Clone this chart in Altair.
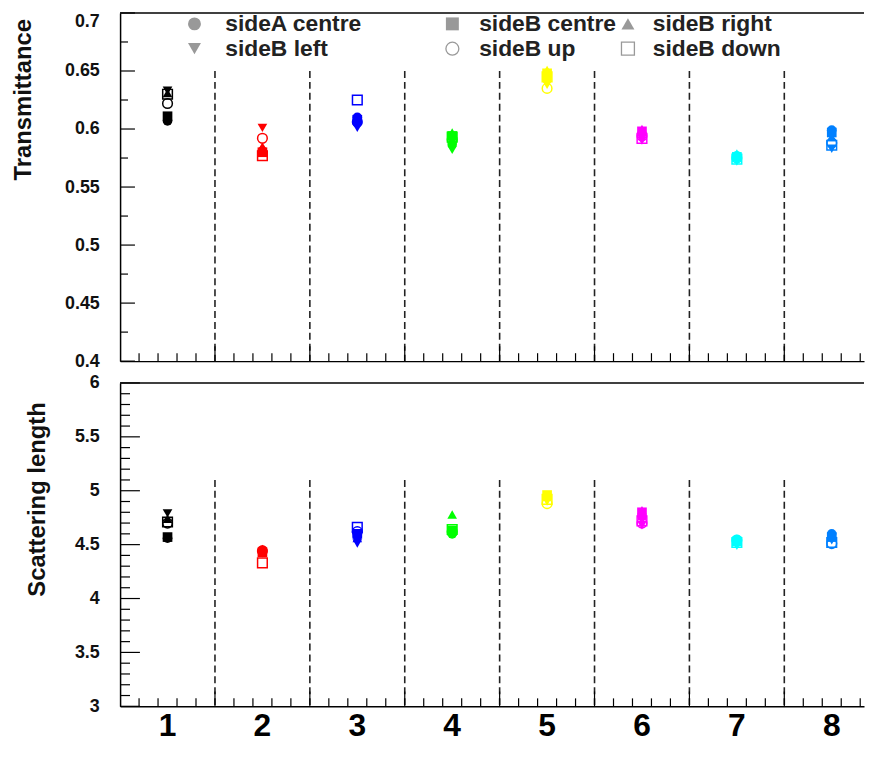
import altair as alt
import pandas as pd

# ---------------- data ----------------
group_labels = ["1", "2", "3", "4", "5", "6", "7", "8"]
group_pos = [0.5, 1.5, 2.5, 3.5, 4.5, 5.5, 6.5, 7.5]
group_colors = ["#000000", "#ff0000", "#0000ff", "#00ff00", "#ffff00", "#ff00ff", "#00ffff", "#0080ff"]
boundaries = [1, 2, 3, 4, 5, 6, 7]

measurements = ["sideA centre", "sideB centre", "sideB right", "sideB left", "sideB up", "sideB down"]
marker_shapes = ["circle", "square", "triangle-up", "triangle-down", "circle", "square"]
marker_filled = [True, True, True, True, False, False]

# Transmittance (top panel)
trans_sideA_centre = [0.607, 0.581, 0.610, 0.587, 0.643, 0.596, 0.577, 0.599]
trans_sideB_centre = [0.611, 0.580, 0.608, 0.594, 0.648, 0.598, 0.576, 0.597]
trans_sideB_right = [0.631, 0.585, 0.609, 0.597, 0.651, 0.600, 0.579, 0.593]
trans_sideB_left = [0.633, 0.601, 0.601, 0.582, 0.638, 0.590, 0.572, 0.583]
trans_sideB_up = [0.622, 0.592, 0.606, 0.591, 0.635, 0.594, 0.575, 0.588]
trans_sideB_down = [0.630, 0.577, 0.625, 0.593, 0.645, 0.592, 0.574, 0.586]

# Scattering length (bottom panel)
scat_sideA_centre = [4.56, 4.45, 4.58, 4.60, 4.94, 4.76, 4.55, 4.60]
scat_sideB_centre = [4.57, 4.43, 4.60, 4.63, 4.96, 4.80, 4.53, 4.57]
scat_sideB_right = [4.74, 4.46, 4.56, 4.78, 4.95, 4.82, 4.54, 4.58]
scat_sideB_left = [4.79, 4.42, 4.51, 4.61, 4.90, 4.68, 4.49, 4.54]
scat_sideB_up = [4.70, 4.44, 4.62, 4.62, 4.88, 4.70, 4.54, 4.51]
scat_sideB_down = [4.71, 4.33, 4.66, 4.64, 4.92, 4.72, 4.52, 4.52]

trans_domain = [0.4, 0.7]
trans_labels = [0.4, 0.45, 0.5, 0.55, 0.6, 0.65, 0.7]
trans_minor = [0.425, 0.475, 0.525, 0.575, 0.625, 0.675]
trans_dash_top = 0.65

scat_domain = [3.0, 6.0]
scat_labels = [3, 3.5, 4, 4.5, 5, 5.5, 6]
scat_minor = [3.1, 3.2, 3.3, 3.4, 3.6, 3.7, 3.8, 3.9, 4.1, 4.2, 4.3, 4.4,
              4.6, 4.7, 4.8, 4.9, 5.1, 5.2, 5.3, 5.4, 5.6, 5.7, 5.8, 5.9]
scat_dash_top = 5.1

x_major = [1, 2, 3, 4, 5, 6, 7]
x_minor = [0.2, 0.4, 0.6, 0.8, 1.2, 1.4, 1.6, 1.8, 2.2, 2.4, 2.6, 2.8, 3.2, 3.4, 3.6, 3.8,
           4.2, 4.4, 4.6, 4.8, 5.2, 5.4, 5.6, 5.8, 6.2, 6.4, 6.6, 6.8, 7.2, 7.4, 7.6, 7.8]

# ---------------- layout ----------------
W = 750
H1 = 351
H2 = 326
XDOM = [0, 7.84]
FONT = "Liberation Sans"

trans_series = [trans_sideA_centre, trans_sideB_centre, trans_sideB_right,
                trans_sideB_left, trans_sideB_up, trans_sideB_down]
scat_series = [scat_sideA_centre, scat_sideB_centre, scat_sideB_right,
               scat_sideB_left, scat_sideB_up, scat_sideB_down]


def long_frame(series):
    rows = []
    for m, vals, f in zip(measurements, series, marker_filled):
        for g, p, v in zip(group_labels, group_pos, vals):
            rows.append({"group": g, "x": p, "measurement": m, "value": v, "filled": f})
    return pd.DataFrame(rows)


def panel(series, ydom, ylabels, yminor, dash_top, ytitle, title_x, title_y, H,
          major_len, minor_len, legend=False, xlabels=False):
    xs = alt.Scale(domain=XDOM, nice=False, zero=False)
    ys = alt.Scale(domain=ydom, nice=False, zero=False)
    x_axis = alt.Axis(labels=False, ticks=False, grid=False, title=None,
                      domainColor="black", domainWidth=1.5)
    label_baseline = {"condition": {"test": f"datum.value >= {ydom[1]} - 1e-9", "value": "top"},
                      "value": "middle"} if legend else "middle"
    y_axis = alt.Axis(values=ylabels, format="~g", ticks=False, grid=False,
                      title=ytitle, titleX=title_x, titleY=title_y, titleAngle=270,
                      titleAlign="center", titleBaseline="middle",
                      titleFont=FONT, titleFontSize=24, titleFontWeight="bold", titleColor="#111",
                      labelFont=FONT, labelFontSize=18, labelFontWeight="bold", labelColor="#111",
                      labelBaseline=label_baseline,
                      labelPadding=21, domainColor="black", domainWidth=1.5)

    df = long_frame(series)
    df_f = df[df["filled"]]
    df_o = df[~df["filled"]]

    shape_enc = alt.Shape("measurement:N", scale=alt.Scale(domain=measurements, range=marker_shapes), legend=None)
    color_enc = alt.Color("group:N", scale=alt.Scale(domain=group_labels, range=group_colors), legend=None)

    layers = []
    # dashed separators
    df_b = pd.DataFrame({"b": boundaries, "top": [dash_top] * len(boundaries),
                         "bottom": [ydom[0]] * len(boundaries)})
    layers.append(alt.Chart(df_b).mark_rule(strokeDash=[7, 4], strokeWidth=1.6, color="#222").encode(
        x=alt.X("b:Q", scale=xs, axis=x_axis),
        y=alt.Y("top:Q", scale=ys, axis=y_axis), y2="bottom:Q"))
    # x ticks (inward)
    layers.append(alt.Chart(pd.DataFrame({"t": x_minor})).mark_rule(color="black", strokeWidth=1.2).encode(
        x=alt.X("t:Q", scale=xs, axis=x_axis), y=alt.value(H), y2=alt.value(H - 8)))
    layers.append(alt.Chart(pd.DataFrame({"t": x_major})).mark_rule(color="black", strokeWidth=1.2).encode(
        x=alt.X("t:Q", scale=xs, axis=x_axis), y=alt.value(H), y2=alt.value(H - 15)))
    # y ticks (inward)
    layers.append(alt.Chart(pd.DataFrame({"t": yminor})).mark_rule(color="black", strokeWidth=1.2).encode(
        y=alt.Y("t:Q", scale=ys, axis=y_axis), x=alt.value(0), x2=alt.value(minor_len)))
    layers.append(alt.Chart(pd.DataFrame({"t": ylabels})).mark_rule(color="black", strokeWidth=1.2).encode(
        y=alt.Y("t:Q", scale=ys, axis=y_axis), x=alt.value(0), x2=alt.value(major_len)))
    # top frame line
    layers.append(alt.Chart(pd.DataFrame({"a": [0]})).mark_rule(color="black", strokeWidth=1.5).encode(
        x=alt.value(0), x2=alt.value(W), y=alt.value(0)))
    # points
    layers.append(alt.Chart(df_f).mark_point(filled=True, size=95, opacity=1).encode(
        x=alt.X("x:Q", scale=xs, axis=x_axis), y=alt.Y("value:Q", scale=ys, axis=y_axis),
        shape=shape_enc, color=color_enc))
    layers.append(alt.Chart(df_o).mark_point(filled=False, size=95, opacity=1, strokeWidth=1.5).encode(
        x=alt.X("x:Q", scale=xs, axis=x_axis), y=alt.Y("value:Q", scale=ys, axis=y_axis),
        shape=shape_enc, color=color_enc))

    if legend:
        sym_x = [75, 335, 512]
        txt_x = [106, 362, 537]
        row_y = [11, 36]
        for i, (m, s, f) in enumerate(zip(measurements, marker_shapes, marker_filled)):
            c, r = i % 3, i // 3
            one = pd.DataFrame({"label": [m]})
            if f:
                sym = alt.Chart(one).mark_point(shape=s, filled=True, size=170, opacity=1, color="#999999")
            else:
                sym = alt.Chart(one).mark_point(shape=s, filled=False, size=170, opacity=1,
                                                color="#999999", strokeWidth=1.3)
            layers.append(sym.encode(x=alt.value(sym_x[c]), y=alt.value(row_y[r])))
            layers.append(alt.Chart(one).mark_text(align="left", baseline="middle", font=FONT,
                                                   fontSize=23, fontWeight="bold", color="#222").encode(
                x=alt.value(txt_x[c]), y=alt.value(row_y[r]), text="label:N"))

    if xlabels:
        df_g = pd.DataFrame({"pos": group_pos, "label": group_labels})
        layers.append(alt.Chart(df_g).mark_text(font=FONT, fontSize=32, fontWeight="bold",
                                                color="black", baseline="alphabetic").encode(
            x=alt.X("pos:Q", scale=xs, axis=x_axis), y=alt.value(H + 30), text="label:N"))

    return alt.layer(*layers).properties(width=W, height=H)


top = panel(trans_series, trans_domain, trans_labels, trans_minor, trans_dash_top,
            "Transmittance", -97, 87, H1, 15, 8, legend=True)
bottom = panel(scat_series, scat_domain, scat_labels, scat_minor, scat_dash_top,
               "Scattering length", -83, 117, H2, 20, 10, xlabels=True)

chart = alt.vconcat(top, bottom, spacing=22, bounds="flush").properties(
    padding={"left": 4, "top": 1, "right": 0, "bottom": 0}
).configure_view(stroke=None)

chart.save("out.html", embed_options={"renderer": "svg", "actions": False})
